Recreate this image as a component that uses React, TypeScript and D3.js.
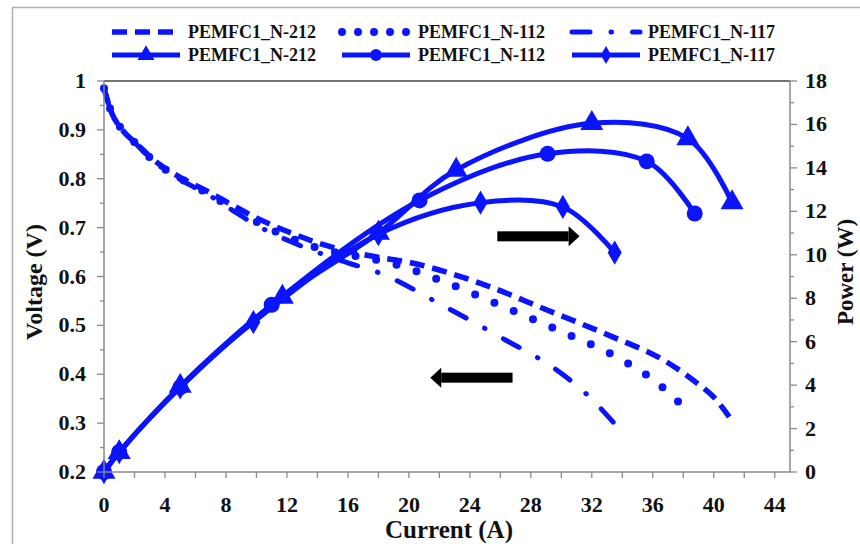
import { useRef, useEffect } from "react";
import * as d3 from "d3";

// polarisation curves (left axis, V)
const volt212Current = [0, 0.5, 1.2, 2.2, 3.2, 4.4, 5.6, 6.8, 8.3, 10, 12.2, 14.4, 17, 20.3, 24.7, 29.1, 33.4, 36.7, 38.9, 40, 41.3];
const volt212Value = [0.985, 0.935, 0.9, 0.87, 0.84, 0.814, 0.793, 0.774, 0.748, 0.72, 0.69, 0.665, 0.645, 0.627, 0.586, 0.531, 0.476, 0.429, 0.382, 0.353, 0.3];
const volt112Current = [0, 0.5, 1.2, 2.2, 3.2, 4.4, 5.6, 6.8, 8.3, 10, 12.2, 14.4, 16.5, 18.6, 22.5, 26.3, 30.1, 34, 36.3, 38.4];
const volt112Value = [0.985, 0.935, 0.9, 0.869, 0.838, 0.811, 0.79, 0.77, 0.742, 0.712, 0.679, 0.655, 0.642, 0.629, 0.587, 0.537, 0.486, 0.429, 0.382, 0.321];
const volt117Current = [0, 0.5, 1.2, 2.2, 3.2, 4.4, 5.6, 6.8, 8.3, 10, 12.2, 14.4, 16, 18.1, 22.2, 26, 29.9, 31.8, 33.4];
const volt117Value = [0.985, 0.935, 0.9, 0.868, 0.837, 0.81, 0.788, 0.768, 0.738, 0.705, 0.672, 0.645, 0.628, 0.607, 0.541, 0.476, 0.404, 0.355, 0.302];

// power curves (right axis, W)
const power212Current = [0, 1, 5, 11.7, 18, 23.1, 32, 38.3, 41.2];
const power212Value = [0, 0.9, 3.95, 8.05, 11.0, 13.9, 16.05, 15.35, 12.4];
const power112Current = [0, 1, 5, 11, 20.7, 29.1, 35.6, 38.75];
const power112Value = [0, 0.92, 3.9, 7.7, 12.5, 14.65, 14.3, 11.9];
const power117Current = [0, 1, 5, 9.8, 18, 24.7, 30.1, 33.5];
const power117Value = [0, 0.92, 3.9, 6.9, 10.95, 12.4, 12.2, 10.1];

const seriesNames = ["PEMFC1_N-212", "PEMFC1_N-112", "PEMFC1_N-117"];
const currentTicks = d3.range(0, 45, 4);
const voltTicks = [1, 0.9, 0.8, 0.7, 0.6, 0.5, 0.4, 0.3, 0.2];
const powerTicks = d3.range(0, 19, 2);

const BLUE = "#0a14ff";
const FONT = "'Liberation Serif', 'Times New Roman', serif";

const voltStyles = [
  { width: 5.5, dash: "15 8", cap: "butt" },
  { width: 8, dash: "0 21", cap: "round" },
  { width: 5, dash: "18 21 0.5 21", cap: "round" },
];

const App = () => {
  const ref = useRef<SVGSVGElement>(null);

  useEffect(() => {
    const svg = d3.select(ref.current);
    svg.selectAll("*").remove();

    const left = 104, right = 790, top = 81, bottom = 472;

    const x = d3.scaleLinear().domain([0, 45]).range([left, right]);
    const yV = d3.scaleLinear().domain([0.2, 1]).range([bottom, top]);
    const yP = d3.scaleLinear().domain([0, 18]).range([bottom, top]);

    // outer frame
    svg.append("rect").attr("x", 12.5).attr("y", 7.5).attr("width", 900).attr("height", 600)
      .attr("fill", "#fff").attr("stroke", "#b0b0b0").attr("stroke-width", 1.5);

    const volts = [
      d3.zip(volt212Current, volt212Value),
      d3.zip(volt112Current, volt112Value),
      d3.zip(volt117Current, volt117Value),
    ];
    const powers = [
      d3.zip(power212Current, power212Value),
      d3.zip(power112Current, power112Value),
      d3.zip(power117Current, power117Value),
    ];

    const vLine = d3.line<number[]>().x((d) => x(d[0])).y((d) => yV(d[1])).curve(d3.curveMonotoneX);
    const pLine = d3.line<number[]>().x((d) => x(d[0])).y((d) => yP(d[1])).curve(d3.curveCatmullRom.alpha(0.5));

    volts.forEach((data, i) => {
      svg.append("path").attr("d", vLine(data)).attr("fill", "none").attr("stroke", BLUE)
        .attr("stroke-width", voltStyles[i].width).attr("stroke-dasharray", voltStyles[i].dash)
        .attr("stroke-linecap", voltStyles[i].cap);
    });

    const markerPath = (kind: number, size: number) => {
      if (kind === 0) return d3.symbol(d3.symbolTriangle, size * 1.15)();
      if (kind === 1) return d3.symbol(d3.symbolCircle, size)();
      return d3.symbol(d3.symbolDiamond, size * 0.85)();
    };

    powers.forEach((data, i) => {
      svg.append("path").attr("d", pLine(data)).attr("fill", "none").attr("stroke", BLUE)
        .attr("stroke-width", 5).attr("stroke-linecap", "round");
      svg.append("g").selectAll("path").data(data).enter().append("path")
        .attr("d", markerPath(i, 200))
        .attr("transform", (d) => `translate(${x(d[0])},${yP(d[1])})`)
        .attr("fill", BLUE);
    });

    // arrows
    const arrow = (x0: number, x1: number, yPix: number) => {
      const dir = Math.sign(x1 - x0);
      const headBase = x1 - dir * 11;
      svg.append("rect").attr("x", Math.min(x0, headBase)).attr("y", yPix - 5)
        .attr("width", Math.abs(headBase - x0)).attr("height", 10).attr("fill", "#000");
      svg.append("path").attr("d", `M${headBase},${yPix - 10}L${x1},${yPix}L${headBase},${yPix + 10}Z`).attr("fill", "#000");
    };
    arrow(x(25.8), x(31.2), yP(10.85));
    arrow(x(26.8), x(21.4), yV(0.393));

    // axes lines
    const axisColor = "#8a8a8a";
    svg.append("line").attr("x1", left).attr("x2", right).attr("y1", top).attr("y2", top).attr("stroke", "#444").attr("stroke-width", 1.5);
    svg.append("line").attr("x1", left).attr("x2", right).attr("y1", bottom).attr("y2", bottom).attr("stroke", axisColor).attr("stroke-width", 1.5);
    svg.append("line").attr("x1", left).attr("x2", left).attr("y1", top).attr("y2", bottom).attr("stroke", axisColor).attr("stroke-width", 1.5);
    svg.append("line").attr("x1", right).attr("x2", right).attr("y1", top).attr("y2", bottom).attr("stroke", axisColor).attr("stroke-width", 1.5);

    // ticks
    const g = svg.append("g").attr("stroke", axisColor).attr("stroke-width", 1.3);
    d3.range(0, 45, 2).forEach((c) => {
      g.append("line").attr("x1", x(c)).attr("x2", x(c)).attr("y1", bottom).attr("y2", bottom + 6);
    });
    d3.range(0.2, 1.001, 0.05).forEach((v, i) => {
      const len = i % 2 === 0 ? 7 : 4;
      g.append("line").attr("x1", left - len).attr("x2", left).attr("y1", yV(v)).attr("y2", yV(v));
    });
    d3.range(0, 18.5, 1).forEach((p, i) => {
      const len = i % 2 === 0 ? 7 : 4;
      g.append("line").attr("x1", right).attr("x2", right + len).attr("y1", yP(p)).attr("y2", yP(p));
    });

    const label = (t: string, px: number, py: number, anchor: string, size = 22) =>
      svg.append("text").text(t).attr("x", px).attr("y", py).attr("text-anchor", anchor)
        .attr("font-family", FONT).attr("font-weight", "bold").attr("font-size", size).attr("fill", "#111");

    currentTicks.forEach((c) => label(String(c), x(c), 512, "middle"));
    voltTicks.forEach((v) => label(v === 1 ? "1" : v.toFixed(1), 86, yV(v) + 7, "end"));
    powerTicks.forEach((p) => label(String(p), 805, yP(p) + 7, "start"));

    label("Current (A)", 449, 538, "middle", 25);
    label("Voltage (V)", 0, 0, "middle", 24).attr("x", null).attr("y", null)
      .attr("transform", "translate(42,282) rotate(-90)");
    label("Power (W)", 0, 0, "middle", 23).attr("x", null).attr("y", null)
      .attr("transform", "translate(853,272) rotate(-90)");

    // legend
    const colX = [188, 418, 648];
    const rowY = [32, 55];
    seriesNames.forEach((name, i) => {
      const lx0 = colX[i] - 76, lx1 = colX[i] - 8;
      svg.append("line").attr("x1", lx0).attr("x2", lx1).attr("y1", rowY[0]).attr("y2", rowY[0])
        .attr("stroke", BLUE).attr("stroke-width", voltStyles[i].width)
        .attr("stroke-dasharray", i === 1 ? "0 16" : voltStyles[i].dash)
        .attr("stroke-linecap", voltStyles[i].cap);
      label(name, colX[i], rowY[0] + 6, "start", 18);

      svg.append("line").attr("x1", lx0).attr("x2", lx1).attr("y1", rowY[1]).attr("y2", rowY[1])
        .attr("stroke", BLUE).attr("stroke-width", 5);
      svg.append("path").attr("d", markerPath(i, 110))
        .attr("transform", `translate(${(lx0 + lx1) / 2},${rowY[1]})`).attr("fill", BLUE);
      label(name, colX[i], rowY[1] + 6, "start", 18);
    });
  }, []);

  return (
    <svg ref={ref} width={860} height={544}
      style={{ position: "absolute", left: 0, top: 0, background: "#fff" }} />
  );
};

export default App;
